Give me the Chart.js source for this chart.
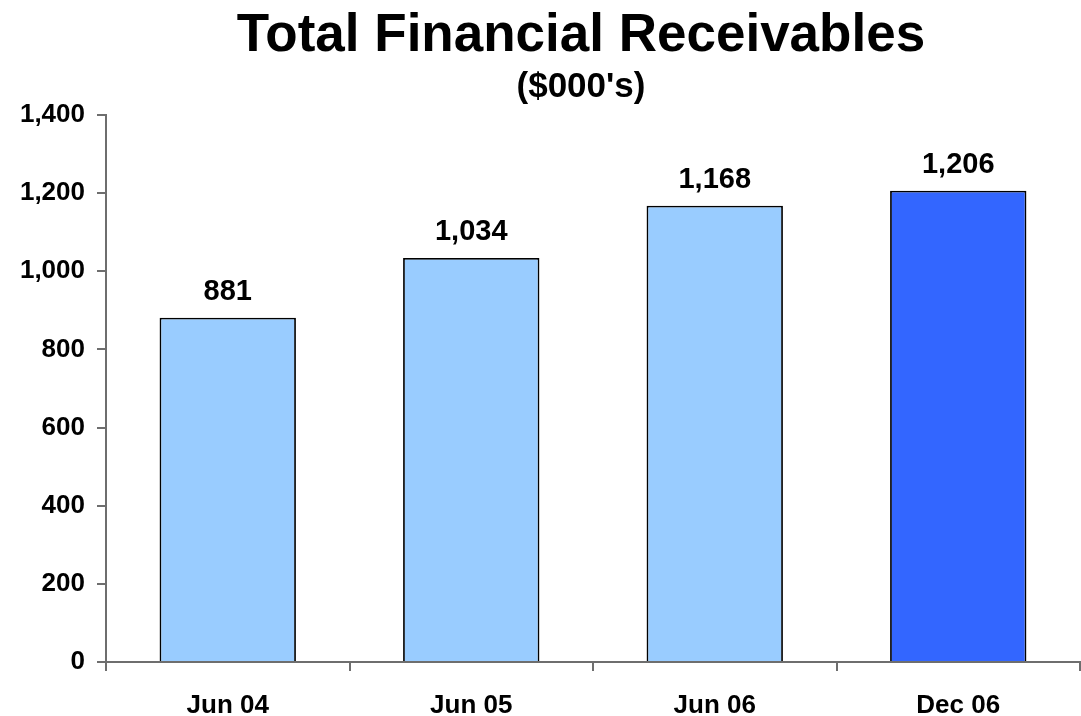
<!DOCTYPE html>
<html>
<head>
<meta charset="utf-8">
<script src="https://cdn.jsdelivr.net/npm/chart.js@4"></script>
<style>
  html, body { margin: 0; padding: 0; background: #fff; }
  #wrap { position: relative; width: 1081px; height: 716px; }
  .ttl { position: absolute; left: 0; width: 1162px; text-align: center;
         font-family: "Liberation Sans", Arial, sans-serif; font-weight: bold; color: #000; }
  #title { top: 3px; font-size: 53px; line-height: 60px; }
  #subtitle { top: 65px; font-size: 35px; line-height: 40px; }
</style>
</head>
<body>
<div id="wrap">
  <canvas id="chart" width="1081" height="716"></canvas>
  <div class="ttl" id="title">Total Financial Receivables</div>
  <div class="ttl" id="subtitle">($000's)</div>
</div>
<script>
const categories = ["Jun 04", "Jun 05", "Jun 06", "Dec 06"];
const receivables = [881, 1034, 1168, 1206];
const barColors = ["#99CCFF", "#99CCFF", "#99CCFF", "#3366FF"];
const yTicks = [0, 200, 400, 600, 800, 1000, 1200, 1400];

const fontFamily = '"Liberation Sans", Arial, sans-serif';

// numbers above each bar
const valueLabels = {
    id: "valueLabels",
    afterDatasetsDraw(chart){
        const ctx = chart.ctx;
        const meta = chart.getDatasetMeta(0);
        ctx.save();
        ctx.font = "bold 29px " + fontFamily;
        ctx.fillStyle = "#000";
        ctx.textAlign = "center";
        ctx.textBaseline = "alphabetic";
        meta.data.forEach(function(bar, i){
            ctx.fillText(receivables[i].toLocaleString("en-US"), bar.x, bar.y - 18);
        });
        ctx.restore();
    }
};

new Chart(document.getElementById("chart"), {
    type: "bar",
    data: {
        labels: categories,
        datasets: [{
            data: receivables,
            backgroundColor: barColors,
            borderColor: "#000",
            borderWidth: 1.8,
            categoryPercentage: 1,
            barPercentage: 0.56
        }]
    },
    options: {
        responsive: false,
        animation: false,
        layout: { padding: { top: 115, right: 1, left: 0, bottom: 0 } },
        plugins: {
            legend: { display: false },
            tooltip: { enabled: false }
        },
        scales: {
            x: {
                grid: {
                    offset: true,
                    drawOnChartArea: false,
                    drawTicks: true,
                    tickLength: 9,
                    color: "#6e6e6e",
                    lineWidth: 2
                },
                border: { color: "#6e6e6e", width: 2 },
                ticks: {
                    color: "#000",
                    padding: 19,
                    font: { family: fontFamily, size: 26, weight: "bold" }
                },
                afterFit(scale){ scale.height = 54; }
            },
            y: {
                min: 0,
                max: 1400,
                afterBuildTicks(scale){
                    scale.ticks = yTicks.map(function(v){ return { value: v }; });
                },
                grid: {
                    drawOnChartArea: false,
                    drawTicks: true,
                    tickLength: 9,
                    color: "#6e6e6e",
                    lineWidth: 2
                },
                border: { color: "#6e6e6e", width: 2 },
                ticks: {
                    color: "#000",
                    padding: 12,
                    font: { family: fontFamily, size: 26, weight: "bold" },
                    callback: function(v){ return Number(v).toLocaleString("en-US"); }
                },
                afterFit(scale){ scale.width = 106; }
            }
        }
    },
    plugins: [valueLabels]
});
</script>
</body>
</html>
